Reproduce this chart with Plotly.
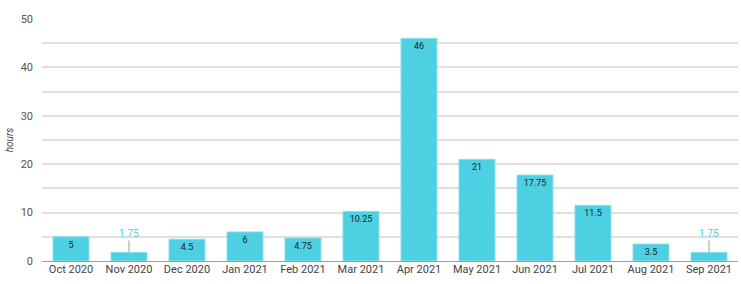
import plotly.graph_objects as go

months = ["Oct 2020", "Nov 2020", "Dec 2020", "Jan 2021", "Feb 2021", "Mar 2021",
          "Apr 2021", "May 2021", "Jun 2021", "Jul 2021", "Aug 2021", "Sep 2021"]
hours = [5, 1.75, 4.5, 6, 4.75, 10.25, 46, 21, 17.75, 11.5, 3.5, 1.75]
labels = ["5", "1.75", "4.5", "6", "4.75", "10.25", "46", "21", "17.75", "11.5", "3.5", "1.75"]

SMALL = 2.5
inside_text = [l if v > SMALL else "" for l, v in zip(labels, hours)]

fig = go.Figure()
fig.add_trace(go.Bar(
    x=months, y=hours,
    marker=dict(color="#4dd0e1", line=dict(color="#86dfeb", width=1)),
    text=inside_text, textposition="inside", insidetextanchor="end",
    textangle=0, constraintext="none",
    textfont=dict(family="Roboto", size=9, color="#222222"),
    hoverinfo="x+y",
))

for m, v, l in zip(months, hours, labels):
    if v <= SMALL:
        fig.add_annotation(x=m, y=v, text=l, showarrow=True, arrowhead=0,
                           arrowwidth=1, arrowcolor="#9e9e9e", ax=0, ay=-12,
                           font=dict(family="Roboto", size=10, color="#4dd0e1"),
                           yanchor="bottom", standoff=0)

fig.update_layout(
    width=741, height=284,
    margin=dict(l=42, r=3, t=19, b=23),
    paper_bgcolor="white", plot_bgcolor="white",
    bargap=0.38,
    showlegend=False,
    font=dict(family="Roboto", size=11, color="#555555"),
    xaxis=dict(showgrid=False, ticks="", tickfont=dict(size=11, color="#444444"),
               showline=False),
    yaxis=dict(range=[0, 50], dtick=10, tick0=0, showgrid=True,
               gridcolor="#e0e0e0", gridwidth=1.5,
               zeroline=True, zerolinecolor="#9e9e9e", zerolinewidth=1,
               ticks="", ticklabelstandoff=8,
               tickfont=dict(size=11, color="#555555"),
               minor=dict(dtick=5, showgrid=True, gridcolor="#e0e0e0", gridwidth=1.5),
               title=dict(text="<i>hours</i>", font=dict(size=10, color="#444444"),
                          standoff=5)),
)

fig.write_html("out.html")
